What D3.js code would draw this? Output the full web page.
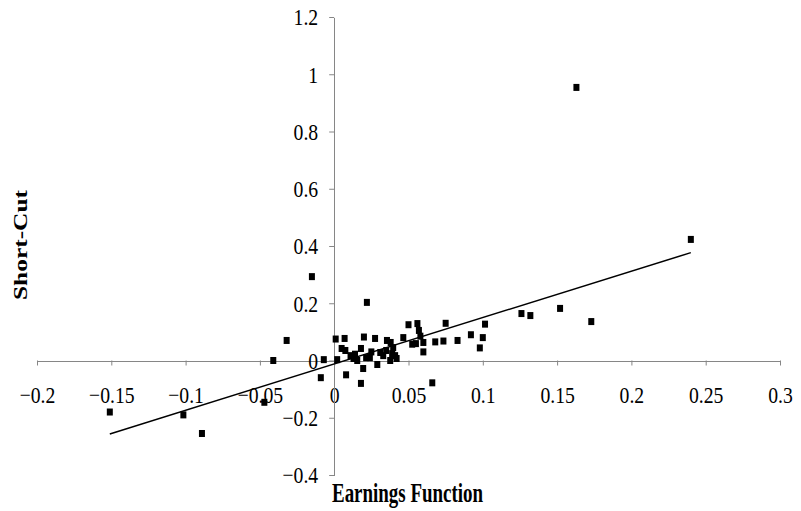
<!DOCTYPE html>
<html>
<head>
<meta charset="utf-8">
<script src="https://cdn.jsdelivr.net/npm/d3@7"></script>
<style>
    body { margin: 0; background: #fff; }
    svg { display: block; }
</style>
</head>
<body>
<svg id="chart"></svg>
<script>
// values
var earningsFn = [-0.151, -0.1015, -0.089, -0.047, -0.041, -0.032, -0.015, -0.009, -0.007, 0.001,
    0.002, 0.007, 0.005, 0.0075, 0.008, 0.011, 0.013, 0.0155, 0.018, 0.020,
    0.0195, 0.018, 0.0215, 0.022, 0.024, 0.0275, 0.029, 0.031, 0.033, 0.0355,
    0.038, 0.0377, 0.041, 0.042, 0.0397, 0.039, 0.0465, 0.05, 0.056, 0.057,
    0.058, 0.0525, 0.055, 0.06, 0.06, 0.068, 0.0735, 0.075, 0.083, 0.092,
    0.1, 0.098, 0.1015, 0.066, 0.126, 0.132, 0.152, 0.173, 0.163, 0.24,
    0.014, 0.025, 0.035];
var shortCut = [-0.18, -0.19, -0.255, -0.146, 0.0, 0.07, 0.293, -0.06, 0.003, 0.075,
    0.003, 0.077, 0.042, 0.035, -0.05, 0.017, 0.007, 0.0, 0.042, 0.082,
    -0.028, -0.08, 0.01, 0.203, 0.01, 0.077, -0.014, 0.028, 0.017, 0.07,
    0.063, 0.0, 0.017, 0.007, 0.045, 0.024, 0.08, 0.125, 0.129, 0.105,
    0.085, 0.057, 0.059, 0.063, 0.03, 0.065, 0.068, 0.13, 0.07, 0.09,
    0.08, 0.044, 0.127, -0.078, 0.164, 0.157, 0.182, 0.136, 0.954, 0.423,
    0.022, 0.03, 0.035];

var xTicks = [-0.2, -0.15, -0.1, -0.05, 0, 0.05, 0.1, 0.15, 0.2, 0.25, 0.3];
var yTicks = [-0.4, -0.2, 0, 0.2, 0.4, 0.6, 0.8, 1, 1.2];

// linear trendline (as drawn)
var trendSlope = 1.62;
var trendIntercept = -0.012;

var width = 801, height = 511;
var axisColor = '#868686';
var font = '"Liberation Serif", "Times New Roman", serif';

var svg = d3.select('#chart')
    .attr('width', width)
    .attr('height', height);

var x = d3.scaleLinear().domain([-0.2, 0.3]).range([37, 780]);
var y = d3.scaleLinear().domain([-0.4, 1.2]).range([475, 17]);

// squeeze text sideways, the picture is narrow
function squeeze(sel, k) {
    sel.each(function () {
        var w = this.getComputedTextLength();
        d3.select(this)
            .attr('textLength', w * k)
            .attr('lengthAdjust', 'spacingAndGlyphs');
    });
}

// x axis through y = 0
var gx = svg.append('g')
    .attr('transform', 'translate(0,' + y(0) + ')')
    .call(d3.axisBottom(x).tickValues(xTicks).tickSize(5).tickSizeOuter(0)
        .tickFormat(function (d) { return d3.format('')(d); }));
gx.select('.domain').attr('stroke', axisColor);
gx.selectAll('.tick line').attr('stroke', axisColor);
gx.selectAll('.tick text')
    .attr('y', 42)
    .attr('dy', 0)
    .attr('fill', '#000')
    .style('font-family', font)
    .style('font-size', '24px')
    .call(squeeze, 0.82);

// y axis through x = 0
var gy = svg.append('g')
    .attr('transform', 'translate(' + x(0) + ',0)')
    .call(d3.axisLeft(y).tickValues(yTicks).tickSize(5).tickSizeOuter(0)
        .tickFormat(function (d) { return d3.format('')(d); }));
gy.select('.domain').attr('stroke', axisColor);
gy.selectAll('.tick line').attr('stroke', axisColor);
gy.selectAll('.tick text')
    .attr('x', -16)
    .attr('dy', '0.33em')
    .attr('fill', '#000')
    .style('font-family', font)
    .style('font-size', '24px')
    .call(squeeze, 0.82);
svg.selectAll('.domain').attr('shape-rendering', 'crispEdges');

// trendline over the data range
var xMin = d3.min(earningsFn), xMax = d3.max(earningsFn);
svg.append('line')
    .attr('x1', x(xMin))
    .attr('y1', y(trendSlope * xMin + trendIntercept))
    .attr('x2', x(xMax))
    .attr('y2', y(trendSlope * xMax + trendIntercept))
    .attr('stroke', '#000')
    .attr('stroke-width', 1.5);

// points
svg.append('g')
    .selectAll('rect')
    .data(d3.range(earningsFn.length))
    .enter()
    .append('rect')
    .attr('x', function (i) { return x(earningsFn[i]) - 3; })
    .attr('y', function (i) { return y(shortCut[i]) - 3.5; })
    .attr('width', 6)
    .attr('height', 7)
    .attr('fill', '#000');

// axis titles
svg.append('text')
    .attr('x', 332)
    .attr('y', 502)
    .style('font-family', font)
    .style('font-size', '27px')
    .style('font-weight', 'bold')
    .text('Earnings Function')
    .attr('textLength', 151)
    .attr('lengthAdjust', 'spacingAndGlyphs');

svg.append('text')
    .attr('transform', 'translate(27,245) rotate(-90)')
    .attr('text-anchor', 'middle')
    .style('font-family', font)
    .style('font-size', '18px')
    .style('font-weight', 'bold')
    .text('Short-Cut')
    .attr('textLength', 110)
    .attr('lengthAdjust', 'spacingAndGlyphs');
</script>
</body>
</html>
